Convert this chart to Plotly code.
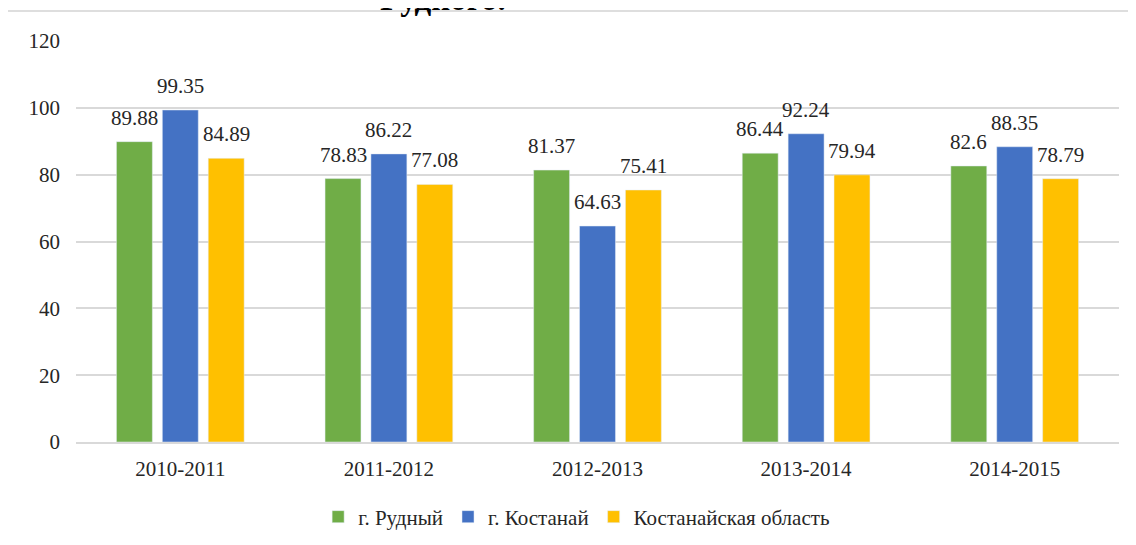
import plotly.graph_objects as go

years = ['2010-2011', '2011-2012', '2012-2013', '2013-2014', '2014-2015']
rudny = [89.88, 78.83, 81.37, 86.44, 82.6]
kostanay = [99.35, 86.22, 64.63, 92.24, 88.35]
oblast = [84.89, 77.08, 75.41, 79.94, 78.79]

series = [
    ('г. Рудный', rudny, '#70AD47'),
    ('г. Костанай', kostanay, '#4472C4'),
    ('Костанайская область', oblast, '#FFC000'),
]

SERIF = 'Times New Roman, Liberation Serif, serif'
TXT = '#262626'
BARGAP = 0.34

fig = go.Figure()
for name, vals, col in series:
    fig.add_trace(go.Bar(x=years, y=vals, name=name, marker_color=col))

# value labels, a bit above each bar (slot offset in category units)
slot = (1 - BARGAP) / len(series)
for i, (name, vals, col) in enumerate(series):
    for j, v in enumerate(vals):
        fig.add_annotation(x=j + (i - 1) * slot, y=v, text=str(v),
                           xref='x', yref='y', showarrow=False,
                           yanchor='bottom', yshift=10,
                           font=dict(family=SERIF, size=21, color=TXT))

# outer chart frame
fig.add_shape(type='rect', xref='paper', yref='paper',
              x0=-0.066, x1=1.1, y0=-0.3, y1=1.0748,
              line=dict(color='#d4d4d4', width=1.5))

# title cut off at the top of the picture
fig.add_annotation(text='<b>Рудного.</b>', xref='paper', yref='paper',
                   x=0.352, y=1.055, xanchor='center', yanchor='bottom',
                   showarrow=False,
                   font=dict(family=SERIF, size=33, color='#000000'))

fig.update_layout(
    width=1136, height=545,
    margin=dict(l=68, r=25, t=33, b=111, autoexpand=False),
    paper_bgcolor='white', plot_bgcolor='white',
    barmode='group', bargap=BARGAP, bargroupgap=0.217,
    font=dict(family=SERIF, size=21, color=TXT),
    legend=dict(orientation='h', x=0.48, y=-0.187, xanchor='center', yanchor='middle',
                font=dict(family=SERIF, size=21, color=TXT), itemwidth=30),
    showlegend=True,
)
fig.update_yaxes(range=[0, 120], dtick=20, showgrid=True, gridcolor='#d9d9d9',
                 gridwidth=1.5, zeroline=False, showline=False,
                 ticks='', ticklabelstandoff=15,
                 tickfont=dict(family=SERIF, size=21, color=TXT))
fig.update_xaxes(showline=True, linecolor='#d9d9d9', linewidth=1.5, ticks='',
                 ticklabelstandoff=7,
                 tickfont=dict(family=SERIF, size=21, color=TXT))

fig.write_html('out.html')
